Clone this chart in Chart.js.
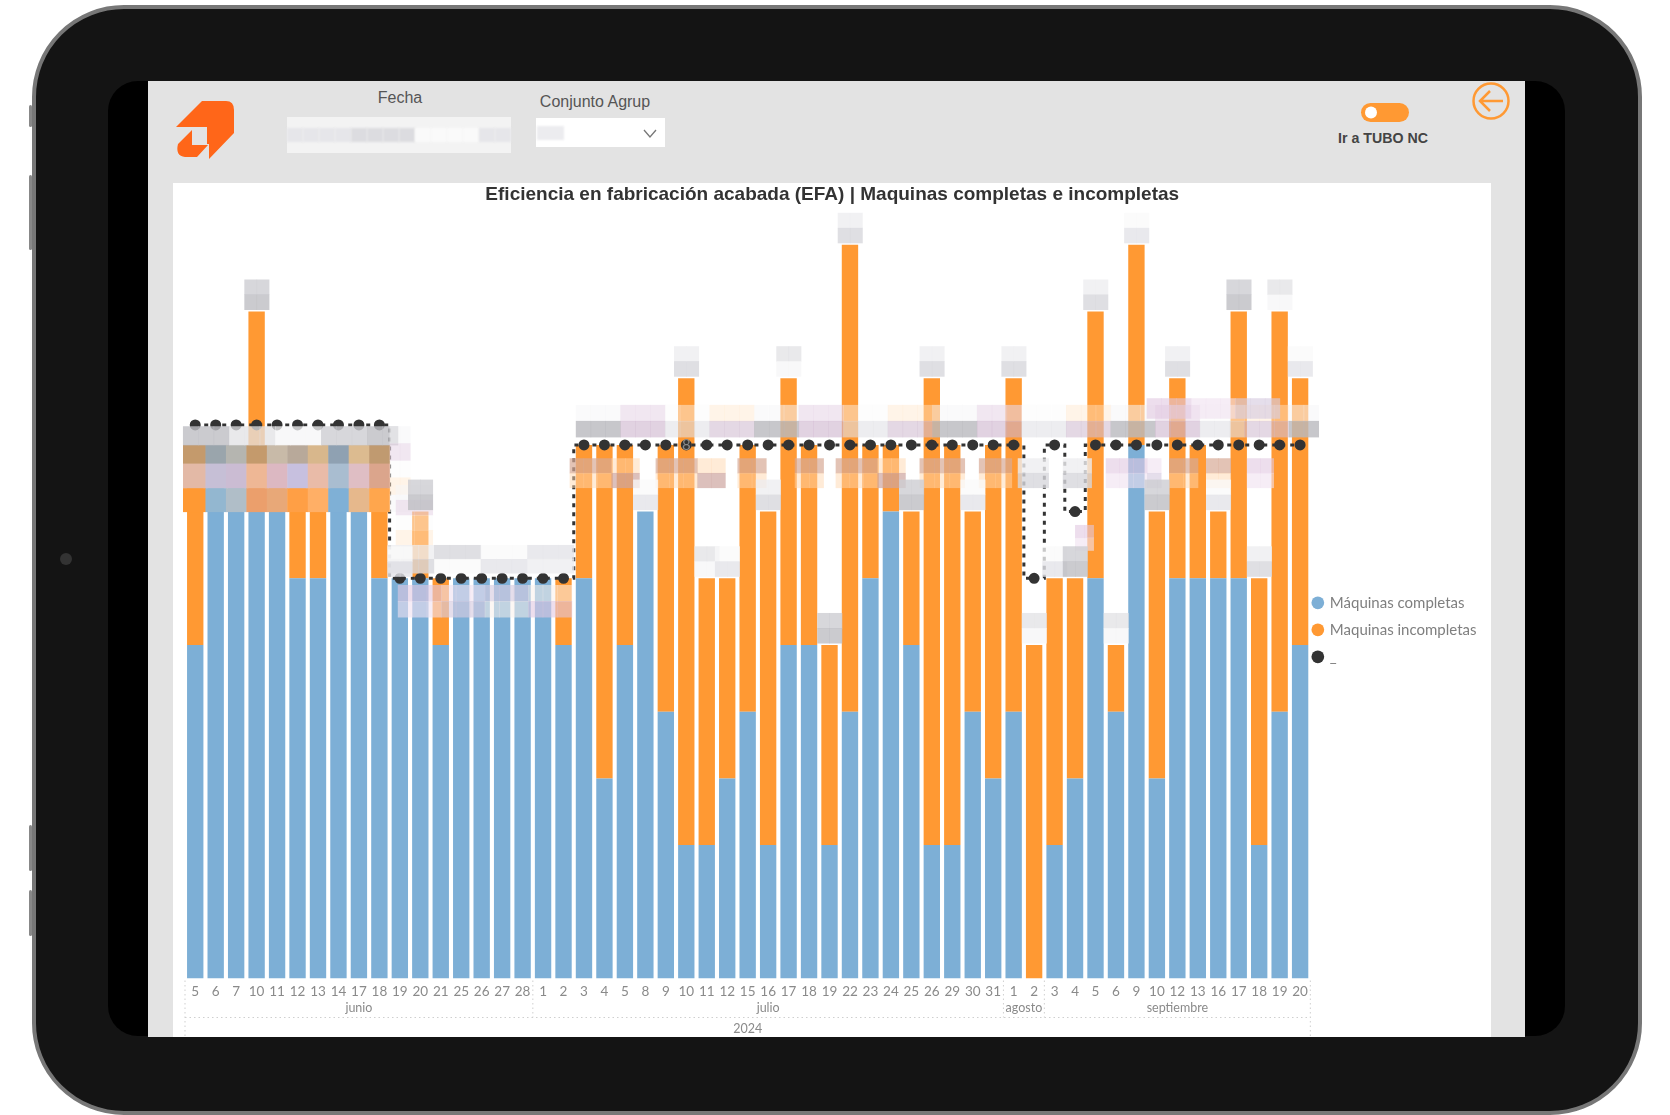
<!DOCTYPE html>
<html lang="es">
<head>
<meta charset="utf-8">
<title>EFA</title>
<script src="https://cdn.jsdelivr.net/npm/chart.js@4"></script>
<style>
    html, body { margin: 0; padding: 0; background: #fff; }
    body { width: 1670px; height: 1115px; position: relative; overflow: hidden; font-family: "Liberation Sans", Arial, sans-serif; }
    .abs { position: absolute; }
    #tablet { left: 32px; top: 5px; width: 1602px; height: 1102px; background: #141414; border: 4px solid #777; border-radius: 92px; }
    #negro { left: 108px; top: 81px; width: 1457px; height: 955px; background: #000; border-radius: 30px; }
    #app { left: 148px; top: 81px; width: 1377px; height: 956px; background: #e3e3e3; overflow: hidden; }
    #card { left: 173px; top: 183px; width: 1318px; height: 854px; background: #fff; overflow: hidden; }
    #card canvas { position: absolute; left: 0; top: 0; filter: blur(0.5px); }
    .boton { left: 29px; width: 3px; background: #888; border-radius: 2px; }
    .txt { color: #555; font-size: 16px; transform: translateX(-50%); white-space: nowrap; }
</style>
</head>
<body>
<div class="abs boton" style="top:105px;height:22px"></div>
<div class="abs boton" style="top:175px;height:75px"></div>
<div class="abs boton" style="top:825px;height:46px"></div>
<div class="abs boton" style="top:890px;height:46px"></div>
<div class="abs" id="tablet"></div>
<div class="abs" style="left:60px;top:553px;width:12px;height:12px;border-radius:50%;background:#333"></div>
<div class="abs" id="negro"></div>
<div class="abs" id="app"></div>

<div class="abs txt" style="left:400px;top:89px">Fecha</div>
<div class="abs txt" style="left:595px;top:93px">Conjunto Agrup</div>
<div class="abs txt" style="left:1383px;top:130px;font-size:14.2px;font-weight:bold;color:#444">Ir a TUBO NC</div>
<div class="abs" id="fecha" style="left:287px;top:117px;width:224px;height:36px;background:#f3f3f3"></div>
<div class="abs" style="left:536px;top:118px;width:129px;height:29px;background:#fff"></div>
<div class="abs" style="left:537px;top:126px;width:27px;height:14px;background:#ececef;filter:blur(1px)"></div>

<svg class="abs" style="left:0;top:0" width="1670" height="200">
    <path fill="#ff6619" d="M176 127 L202 101 L226 101 Q234 101 234 110 L234 133 L209 159 L209 144 L207 144 L207 127 Z"/>
    <path fill="#ff6619" d="M192 130 L178 144 Q175 156 185 157 L197 157 L208 145 L192 145 Z"/>
    <rect x="1361" y="103" width="48" height="19" rx="9.5" fill="#ff9933"/>
    <circle cx="1371" cy="112.5" r="6" fill="#fff"/>
    <circle cx="1491" cy="101" r="17.5" fill="none" stroke="#ff9933" stroke-width="2.5"/>
    <path d="M1480 101 H1503 M1490 91 L1480 101 L1490 111" fill="none" stroke="#ff9933" stroke-width="2.5"/>
    <path d="M644 130 L650 137 L656 130" fill="none" stroke="#777" stroke-width="1.3"/>
</svg>

<div class="abs" id="card"><canvas id="efaChart" width="1318" height="894"></canvas></div>

<script>
// Datos
const dias = ['5','6','7','10','11','12','13','14','17','18','19','20','21','25','26','27','28',
    '1','2','3','4','5','8','9','10','11','12','15','16','17','18','19','22','23','24','25','26','29','30','31',
    '1','2',
    '3','4','5','6','9','10','12','13','16','17','18','19','20'];
const completas = [5,8,8,7,7,6,6,8,7,6,6,6,5,6,6,6,6,
    6,5,6,3,5,7,4,2,2,3,4,2,5,5,2,4,6,7,5,2,2,4,3,
    4,0,
    2,3,6,4,8,3,6,6,6,6,2,4,5];
const incompletas = [3,0,0,3,1,2,2,0,1,2,0,1,1,0,0,0,0,
    0,1,2,5,3,0,4,7,4,3,4,5,4,3,3,7,2,1,2,7,6,3,5,
    5,5,
    4,3,4,1,3,4,3,2,1,4,4,6,4];
const meta = [8.3,8.3,8.3,8.3,8.3,8.3,8.3,8.3,8.3,8.3,6,6,6,6,6,6,6,
    6,6,8,8,8,8,8,8,8,8,8,8,8,8,8,8,8,8,8,8,8,8,8,
    8,6,
    8,7,8,8,8,8,8,8,8,8,8,8,8];
const meses = ['junio','julio','agosto','septiembre'];
const diasPorMes = [17,23,2,13];
const anio = '2024';

// Zonas pixeladas que tapan las etiquetas: [desde, hasta, valor arriba, valor abajo, tono]
const tonos = {
    gris: ['rgba(190,190,195,.8)','rgba(225,225,228,.75)','rgba(245,245,247,.75)','rgba(205,205,210,.8)'],
    suave: ['rgba(238,238,240,.8)','rgba(215,215,220,.8)','rgba(250,250,250,.75)','rgba(228,228,232,.8)'],
    lila: ['rgba(225,200,225,.6)','rgba(240,225,240,.6)','rgba(215,205,225,.65)','rgba(250,240,235,.55)'],
    crema: ['rgba(215,170,150,.7)','rgba(255,215,175,.5)','rgba(205,165,160,.7)','rgba(240,200,185,.6)'],
    banda: ['rgba(185,185,190,.8)','rgba(205,180,205,.6)','rgba(225,225,230,.6)','rgba(210,190,210,.6)'],
    tenue: ['rgba(245,245,247,.55)','rgba(232,215,232,.6)','rgba(250,250,250,.45)','rgba(255,230,205,.45)']
};
const parches = [
    [-0.6,9.9,8.28,8.0,'gris'],
    [9.5,10.5,8.28,7.0,'tenue'],
    [9.8,11.6,7.4,6.5,'tenue'],
    [9.4,18.5,6.5,6.08,'suave'],
    [9.9,18.4,5.9,5.42,'lila'],
    [18.6,54.9,8.6,8.36,'tenue'],
    [18.6,54.9,8.36,8.12,'banda'],
    [46.5,53,8.7,8.4,'lila'],
    [18.3,21.7,7.8,7.36,'crema'],
    [22.5,25.9,7.8,7.36,'crema'],
    [26.5,27.9,7.8,7.36,'crema'],
    [29.3,30.7,7.8,7.36,'crema'],
    [31.3,34.7,7.8,7.36,'crema'],
    [35.4,37.6,7.8,7.36,'crema'],
    [38.3,39.9,7.8,7.36,'crema'],
    [40.2,41.7,7.8,7.36,'suave'],
    [42.4,43.8,7.8,7.36,'suave'],
    [44.5,47.2,7.8,7.36,'lila'],
    [47.6,49,7.8,7.36,'crema'],
    [49.4,50.6,7.8,7.36,'crema'],
    [51.4,52.7,7.8,7.36,'lila'],
    [43,43.9,6.8,6.42,'lila']
];
// Bloque de junio, un color por dia y fila: [valor arriba, valor abajo, colores]
const filasJunio = [
    [8.0,7.72,['#c49a6c','#9aa5ac','#b5b5b0','#c49a6c','#c8baa8','#b8a99a','#d8b78c','#8fa1b2','#dcbb90','#c09a70']],
    [7.72,7.35,['#e3b9a6','#c6bfd6','#cbbcd3','#eeb795','#dcb8c2','#c7c0df','#e9bba8','#a9bdd0','#dfbec4','#dba58c']],
    [7.35,7.0,['#ff9933','#93b7d0','#b0bec8','#eb9f6c','#e8a878','#ff9f45','#ffaf66','#7fb0d6','#e6b88c','#ffa64d']]
];

// Pinta un bloque pixelado usando las escalas del grafico
const pintarMosaico = (ctx, x, y, desde, hasta, arriba, abajo, tono, salto = 0) => {
    const left = x.getPixelForValue(desde);
    const right = x.getPixelForValue(hasta);
    const top = y.getPixelForValue(arriba);
    const bottom = y.getPixelForValue(abajo);
    const cols = Math.max(2, Math.round((right - left) / 15));
    const rows = Math.max(1, Math.round((bottom - top) / 16));
    const paleta = tonos[tono];
    for (let c = 0; c < cols; c++) {
        for (let r = 0; r < rows; r++) {
            ctx.fillStyle = paleta[(c * 3 + r * 5 + (c % 3) + salto) % paleta.length];
            const cx = left + (right - left) * c / cols;
            const cy = top + (bottom - top) * r / rows;
            ctx.fillRect(cx, cy, (right - left) / cols + 0.5, (bottom - top) / rows + 0.5);
        }
    }
};

const mosaicos = {
    id: 'mosaicos',
    afterLayout(chart) {
        // centrado del titulo y sitio de la leyenda como en el original
        chart.titleBlock.left -= 8;
        chart.titleBlock.right -= 8;
        chart.legend.left -= 9;
        chart.legend.right -= 9;
        chart.legend.top += 40;
        chart.legend.bottom += 40;
    },
    afterDatasetsDraw(chart) {
        const { ctx, scales: { x, y } } = chart;
        ctx.save();
        filasJunio.forEach(f => {
            f[2].forEach((color, i) => {
                const l = x.getPixelForValue(i - 0.5);
                const r = x.getPixelForValue(i + 0.5);
                const t = y.getPixelForValue(f[0]);
                ctx.fillStyle = color;
                ctx.fillRect(i === 0 ? l - 2 : l, t, r - (i === 0 ? l - 2 : l) + 0.5, y.getPixelForValue(f[1]) - t + 0.5);
            });
        });
        parches.forEach(p => pintarMosaico(ctx, x, y, p[0], p[1], p[2], p[3], p[4]));
        // etiqueta del total encima de cada barra
        dias.forEach((d, i) => {
            const total = completas[i] + incompletas[i];
            if (total === 8 || (i <= 9 && total < 9) || (i >= 12 && i <= 18)) return;
            pintarMosaico(ctx, x, y, i - 0.6, i + 0.6, total + 0.48, total + 0.03, i % 2 ? 'gris' : 'suave', i);
        });
        ctx.fillStyle = '#8a8a8a';
        ctx.font = '15px Lato';
        ctx.textAlign = 'center';
        ctx.textBaseline = 'middle';
        ctx.fillText('8', x.getPixelForValue(24), y.getPixelForValue(8));
        ctx.restore();
    }
};

// Ejes de mes y anio debajo de los dias
const ejeFechas = {
    id: 'ejeFechas',
    afterDraw(chart) {
        const { ctx, chartArea, scales: { x } } = chart;
        const base = chartArea.bottom;
        const lineaMes = base + 39;
        const fin = chart.height;
        const paso = x.getPixelForValue(1) - x.getPixelForValue(0);
        ctx.save();
        ctx.strokeStyle = '#cfcfcf';
        ctx.setLineDash([1.5, 3]);
        ctx.lineWidth = 1;
        ctx.beginPath();
        ctx.moveTo(x.getPixelForValue(0) - paso / 2, lineaMes);
        ctx.lineTo(x.getPixelForValue(dias.length - 1) + paso / 2, lineaMes);
        ctx.moveTo(x.getPixelForValue(0) - paso / 2, base + 2);
        ctx.lineTo(x.getPixelForValue(0) - paso / 2, fin);
        ctx.moveTo(x.getPixelForValue(dias.length - 1) + paso / 2, base + 2);
        ctx.lineTo(x.getPixelForValue(dias.length - 1) + paso / 2, fin);
        let acum = 0;
        diasPorMes.forEach((n, k) => {
            acum += n;
            if (k < diasPorMes.length - 1) {
                ctx.moveTo(x.getPixelForValue(acum - 1) + paso / 2, base + 2);
                ctx.lineTo(x.getPixelForValue(acum - 1) + paso / 2, lineaMes);
            }
        });
        ctx.stroke();
        ctx.setLineDash([]);
        ctx.fillStyle = '#8a8a8a';
        ctx.font = '12.5px Lato';
        ctx.textAlign = 'center';
        ctx.textBaseline = 'middle';
        acum = 0;
        meses.forEach((m, k) => {
            const medio = acum + (diasPorMes[k] - 1) / 2;
            ctx.fillText(m, x.getPixelForValue(medio), base + 29);
            acum += diasPorMes[k];
        });
        ctx.fillText(anio, x.getPixelForValue((dias.length - 1) / 2), base + 50);
        ctx.restore();
    }
};

// Relleno pixelado del selector de fecha
const fecha = document.getElementById('fecha');
const grises = ['#e6e6ea', '#f6f6f6', '#dcdce0', '#eeeeef', '#fafafa', '#e2e2e6'];
for (let i = 0; i < 14; i++) {
    const s = document.createElement('div');
    s.className = 'abs';
    s.style.cssText = `left:${i * 16}px;top:11px;width:16px;height:14px;filter:blur(1px);background:${grises[(i * 5 + i % 4) % grises.length]}`;
    fecha.appendChild(s);
}

new Chart(document.getElementById('efaChart').getContext('2d'), {
    type: 'bar',
    data: {
        labels: dias,
        datasets: [
            { label: 'Máquinas completas', data: completas, backgroundColor: '#7dafd6', order: 1, stack: 's' },
            { label: 'Maquinas incompletas', data: incompletas, backgroundColor: '#ff9933', order: 1, stack: 's' },
            {
                type: 'line', label: '_', data: meta, order: 0, stepped: 'middle',
                borderColor: '#333', borderWidth: 3, borderDash: [4, 5],
                pointRadius: 4, pointBackgroundColor: '#333', pointBorderColor: '#333', fill: false
            }
        ]
    },
    options: {
        responsive: false,
        animation: false,
        layout: { padding: { left: 12, right: -4.5, top: 0, bottom: 80.3 } },
        datasets: { bar: { categoryPercentage: 1, barPercentage: 0.8 } },
        plugins: {
            title: {
                display: true,
                text: 'Eficiencia en fabricación acabada (EFA) | Maquinas completas e incompletas',
                color: '#333',
                font: { family: 'Liberation Sans', size: 19, weight: 'bold' },
                padding: { top: 0, bottom: 7 }
            },
            legend: {
                position: 'right',
                labels: {
                    usePointStyle: true, pointStyle: 'circle', boxWidth: 9, boxHeight: 9, padding: 12,
                    color: '#7f7f7f', font: { family: 'Lato', size: 15 },
                    sort: (a, b) => a.datasetIndex - b.datasetIndex,
                    generateLabels: chart => Chart.defaults.plugins.legend.labels.generateLabels(chart).map(l => ({ ...l, lineWidth: 0 }))
                }
            },
            tooltip: { enabled: false }
        },
        scales: {
            x: {
                stacked: true,
                grid: { display: false },
                border: { display: false },
                ticks: {
                    autoSkip: false, maxRotation: 0, padding: -3,
                    color: '#8a8a8a', font: { family: 'Lato', size: 13.5 }
                }
            },
            y: { stacked: true, display: false, min: 0, max: 11.48 }
        }
    },
    plugins: [mosaicos, ejeFechas]
});
</script>
</body>
</html>
